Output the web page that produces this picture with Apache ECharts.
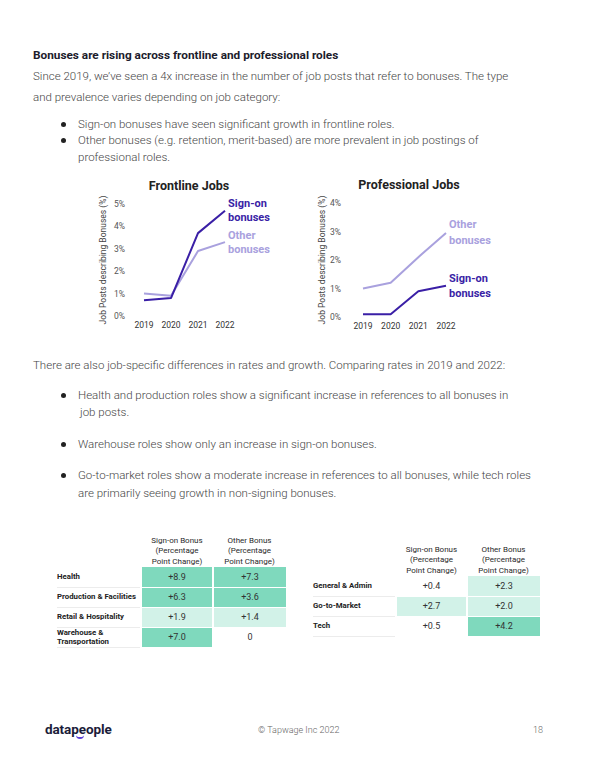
<!DOCTYPE html>
<html><head><meta charset="utf-8">
<script src="https://cdn.jsdelivr.net/npm/echarts/dist/echarts.min.js"></script>
<style>
html,body{margin:0;padding:0;}
body{width:600px;height:776px;background:#fff;position:relative;overflow:hidden;font-family:Roboto,"Noto Sans",sans-serif;}
#chart{position:absolute;left:0;top:0;width:600px;height:776px;}
.t{position:absolute;white-space:nowrap;font-size:11.5px;line-height:14px;color:#454545;font-weight:300;}
.h{font-weight:700;color:#1c1c2c;font-size:11.8px;}
.dot{position:absolute;width:5px;height:5px;border-radius:50%;background:#222;}
table{position:absolute;border-collapse:collapse;font-family:Roboto,sans-serif;}
td,th{padding:0;}
th{font-weight:400;font-size:8px;line-height:10.5px;color:#2a2a2a;text-align:center;vertical-align:bottom;}
td.lab{font-weight:700;font-size:7.8px;color:#222;text-align:left;border-bottom:1px solid #ececec;line-height:9.5px;}
td.v{font-size:9px;color:#333;text-align:center;border-left:2px solid #fff;border-bottom:1px solid #fff;}
.foot{position:absolute;font-size:9px;color:#666;white-space:nowrap;line-height:12px;font-weight:300;}
.logo{position:absolute;left:45px;top:721px;font-weight:700;font-size:13.5px;color:#1b1d3a;line-height:16px;letter-spacing:-0.1px;}
.smile{position:absolute;left:76px;top:733px;width:8px;height:4px;border-bottom:2px solid #5b3fd6;border-radius:0 0 6px 6px;}
</style></head>
<body>
<div id="chart"></div>
<div id="texts"></div>
<div class="logo">datapeople</div><div class="smile"></div>
<div class="foot" style="left:258px;top:724px;">© Tapwage Inc 2022</div>
<div class="foot" style="left:533px;top:724px;">18</div>
<script>
// ---- data ----
const years = ['2019', '2020', '2021', '2022'];
const frontSignOn = [0.7, 0.8, 3.7, 4.7];
const frontOther = [1.0, 0.9, 2.9, 3.3];
const profSignOn = [0.1, 0.1, 0.9, 1.1];
const profOther = [1.0, 1.2, 2.1, 2.95];

const leftRoles = [['Health'], ['Production & Facilities'], ['Retail & Hospitality'], ['Warehouse &', 'Transportation']];
const leftSignOn = [8.9, 6.3, 1.9, 7.0];
const leftOther = [7.3, 3.6, 1.4, 0];
const rightRoles = [['General & Admin'], ['Go-to-Market'], ['Tech']];
const rightSignOn = [0.4, 2.7, 0.5];
const rightOther = [2.3, 2.0, 4.2];
const colHeaders = [['Sign-on Bonus', '(Percentage', 'Point Change)'], ['Other Bonus', '(Percentage', 'Point Change)']];

// ---- text ----
const lines = [
  {x: 33, y: 55, t: 'Bonuses are rising across frontline and professional roles', h: true},
  {x: 33, y: 76, t: 'Since 2019, we\u2019ve seen a 4x increase in the number of job posts that refer to bonuses. The type'},
  {x: 33, y: 97, t: 'and prevalence varies depending on job category:'},
  {x: 78, y: 124, t: 'Sign-on bonuses have seen significant growth in frontline roles.', b: true},
  {x: 78, y: 140, t: 'Other bonuses (e.g. retention, merit-based) are more prevalent in job postings of', b: true},
  {x: 78, y: 157, t: 'professional roles.'},
  {x: 33, y: 365, t: 'There are also job-specific differences in rates and growth. Comparing rates in 2019 and 2022:'},
  {x: 78, y: 395, t: 'Health and production roles show a significant increase in references to all bonuses in', b: true},
  {x: 80, y: 412, t: 'job posts.'},
  {x: 78, y: 444, t: 'Warehouse roles show only an increase in sign-on bonuses.', b: true},
  {x: 78, y: 475, t: 'Go-to-market roles show a moderate increase in references to all bonuses, while tech roles', b: true},
  {x: 78, y: 493, t: 'are primarily seeing growth in non-signing bonuses.'}
];
const tc = document.getElementById('texts');
lines.forEach(l => {
  const d = document.createElement('div');
  d.className = 't' + (l.h ? ' h' : '');
  d.style.left = l.x + 'px'; d.style.top = (l.y - 7) + 'px';
  d.textContent = l.t; tc.appendChild(d);
  if (l.b) {
    const b = document.createElement('div'); b.className = 'dot';
    b.style.left = '61px'; b.style.top = (l.y - 2.5) + 'px'; tc.appendChild(b);
  }
});

// ---- tables ----
function cellColor(v) { return v >= 3 ? '#7fd9bd' : (v >= 1 ? '#d2f2e8' : '#ffffff'); }
function fmt(v) { return v === 0 ? '0' : '+' + v.toFixed(1); }
function buildTable(left, top, labW, colW, headH, rowH, roles, s1, s2) {
  const tb = document.createElement('table');
  tb.style.left = left + 'px'; tb.style.top = top + 'px';
  let html = '<tr style="height:' + headH + 'px"><th style="width:' + labW + 'px"></th>';
  colHeaders.forEach((h, i) => { html += '<th style="width:' + colW[i] + 'px">' + h.join('<br>') + '</th>'; });
  html += '</tr>';
  roles.forEach((r, i) => {
    html += '<tr style="height:' + rowH + 'px"><td class="lab">' + r.join('<br>') + '</td>' +
      '<td class="v" style="background:' + cellColor(s1[i]) + '">' + fmt(s1[i]) + '</td>' +
      '<td class="v" style="background:' + cellColor(s2[i]) + '">' + fmt(s2[i]) + '</td></tr>';
  });
  tb.innerHTML = html;
  document.body.appendChild(tb);
}
buildTable(57, 530, 84, [72, 73], 37, 20, leftRoles, leftSignOn, leftOther);
buildTable(313, 540, 83, [71, 73], 36, 20, rightRoles, rightSignOn, rightOther);

// ---- charts ----
const DARK = '#3a1fa6', LIGHT = '#a9a1de';
function yAx(gi, max, margin) {
  return {
    gridIndex: gi, type: 'value', min: 0, max: max, interval: 1,
    name: 'Job Posts describing Bonuses (%)', nameLocation: 'middle', nameGap: 37,
    nameTextStyle: {fontSize: 8.5, color: '#444', fontFamily: 'Roboto'},
    axisLine: {show: false}, axisTick: {show: false}, splitLine: {show: false},
    axisLabel: {formatter: '{value}%', fontSize: 8.5, color: '#555', margin: margin, fontFamily: 'Roboto'}
  };
}
function xAx(gi) {
  return {
    gridIndex: gi, type: 'category', data: years, boundaryGap: false,
    axisLine: {show: false}, axisTick: {show: false},
    axisLabel: {fontSize: 8.5, color: '#333', margin: 4, fontFamily: 'Roboto'}
  };
}
function ser(gi, data, color, label, lh) {
  return {
    type: 'line', xAxisIndex: gi, yAxisIndex: gi, data: data, symbol: 'none',
    lineStyle: {color: color, width: 2}, itemStyle: {color: color},
    endLabel: {show: true, formatter: label, color: color, fontWeight: 'bold', fontSize: 11,
      lineHeight: lh, distance: 3, fontFamily: 'Roboto'}
  };
}
const chart = echarts.init(document.getElementById('chart'), null, {renderer: 'svg'});
chart.setOption({
  animation: false,
  title: [
    {text: 'Frontline Jobs', left: 184, top: 174, textAlign: 'center',
      textStyle: {fontSize: 12.5, fontWeight: 'bold', color: '#222', fontFamily: 'Roboto'}},
    {text: 'Professional Jobs', left: 404, top: 173, textAlign: 'center',
      textStyle: {fontSize: 12.5, fontWeight: 'bold', color: '#222', fontFamily: 'Roboto'}}
  ],
  grid: [
    {left: 144, top: 204, width: 81, height: 112},
    {left: 363, top: 203, width: 83, height: 114}
  ],
  xAxis: [xAx(0), xAx(1)],
  yAxis: [yAx(0, 5, 19), yAx(1, 4, 22)],
  series: [
    ser(0, frontOther, LIGHT, 'Other\nbonuses', 14),
    ser(0, frontSignOn, DARK, 'Sign-on\nbonuses', 14),
    ser(1, profOther, LIGHT, 'Other\nbonuses', 16),
    ser(1, profSignOn, DARK, 'Sign-on\nbonuses', 15)
  ]
});
</script>
</body></html>
